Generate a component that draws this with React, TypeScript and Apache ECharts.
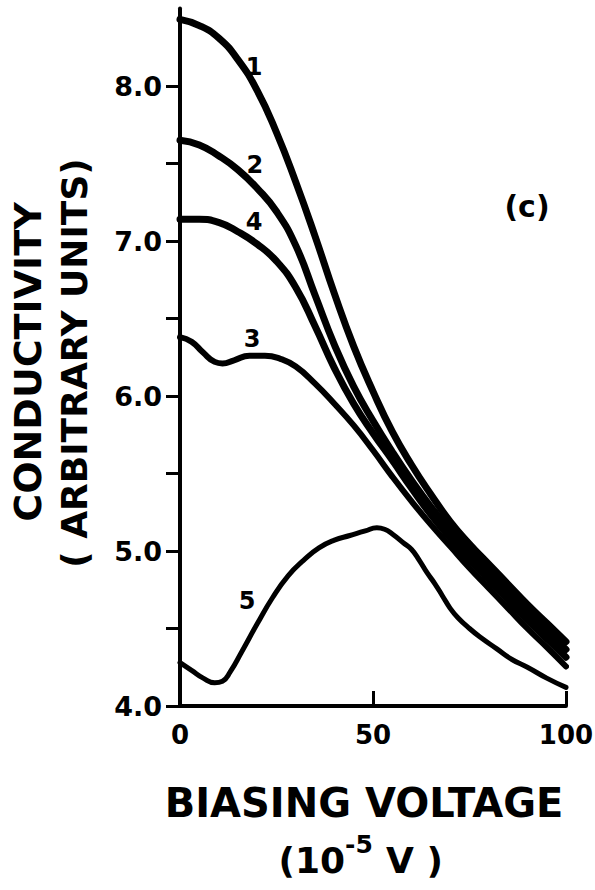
import React, { useEffect, useRef } from "react";
import * as echarts from "echarts";

// ---- data ----
const voltsA = [0, 5, 10, 15, 20, 25, 30, 35, 40, 45, 50, 55, 60, 65, 70, 75, 80, 85, 90, 95, 100];
const curve1 = [8.43, 8.39, 8.31, 8.17, 7.97, 7.7, 7.38, 7.03, 6.66, 6.32, 6.03, 5.77, 5.555, 5.365, 5.19, 5.045, 4.915, 4.785, 4.655, 4.535, 4.415];
const curve2 = [7.65, 7.62, 7.55, 7.46, 7.34, 7.19, 6.97, 6.65, 6.33, 6.06, 5.84, 5.64, 5.455, 5.285, 5.135, 4.995, 4.865, 4.735, 4.605, 4.485, 4.365];
const curve4 = [7.14, 7.14, 7.12, 7.06, 6.98, 6.87, 6.7, 6.45, 6.18, 5.95, 5.76, 5.585, 5.405, 5.235, 5.085, 4.945, 4.815, 4.685, 4.555, 4.435, 4.315];

const volts3 = [0, 3, 6, 9, 11, 14, 18, 22, 26, 30, 35, 40, 45, 50, 55, 60, 65, 70, 75, 80, 85, 90, 95, 100];
const curve3 = [6.38, 6.35, 6.28, 6.22, 6.21, 6.23, 6.26, 6.26, 6.24, 6.19, 6.08, 5.95, 5.81, 5.65, 5.48, 5.32, 5.17, 5.03, 4.89, 4.76, 4.63, 4.5, 4.38, 4.255];

const volts5 = [0, 3, 6, 9, 11, 13, 16, 20, 24, 28, 32, 36, 40, 44, 48, 51, 53, 55, 58, 60, 62, 64, 66, 68, 70, 72, 75, 78, 82, 86, 90, 95, 100];
const curve5 = [4.28, 4.23, 4.18, 4.15, 4.16, 4.22, 4.35, 4.53, 4.7, 4.84, 4.94, 5.02, 5.07, 5.1, 5.13, 5.15, 5.14, 5.11, 5.05, 5.01, 4.94, 4.86, 4.79, 4.71, 4.63, 4.57, 4.5, 4.44, 4.37, 4.3, 4.25, 4.18, 4.12];

const curveNames = ["1", "2", "4", "3", "5"];
const labelV = [19.2, 19.4, 19.2, 18.7, 17.4];
const labelC = [8.12, 7.49, 7.12, 6.37, 4.68];
const panelLabel = "(c)";
const panelV = 89.9;
const panelC = 7.22;

const xTickLabels = [0, 50, 100];
const yTickLabels = [4, 5, 6, 7, 8];
const yMinorTicks = [4, 4.5, 5, 5.5, 6, 6.5, 7, 7.5, 8];

const FONT = "DejaVu Sans";

function zip(xs: number[], ys: number[]) {
  return xs.map((x, i) => [x, ys[i]]);
}

export default function App() {
  const ref = useRef<HTMLDivElement>(null);
  useEffect(() => {
    if (!ref.current) return;
    const chart = echarts.init(ref.current, null, { renderer: "svg" });
    const lineSeries = (data: number[][], width: number) => ({
      type: "line",
      data,
      smooth: 0.5,
      showSymbol: false,
      symbol: "none",
      lineStyle: { color: "#000", width, cap: "round", join: "round" },
      z: 3,
    });
    const textLabel = (size: number) => ({
      show: true,
      position: [0, 0],
      align: "center",
      verticalAlign: "middle",
      formatter: (p: any) => p.name,
      color: "#000",
      opacity: 1,
      textBorderWidth: 0,
      fontSize: size,
      fontWeight: "bold",
      fontFamily: FONT,
    });
    const labelData = curveNames.map((n, i) => ({ value: [labelV[i], labelC[i]], name: n }));
    chart.setOption({
      animation: false,
      backgroundColor: "#fff",
      grid: { left: 180, right: 29, top: 8.5, bottom: 184, outerBoundsMode: "none" },
      xAxis: {
        type: "value",
        min: 0,
        max: 100,
        interval: 50,
        splitLine: { show: false },
        axisLine: { show: true, lineStyle: { color: "#000", width: 4 } },
        axisTick: {
          show: true,
          inside: true,
          length: 15,
          customValues: [50, 100],
          lineStyle: { color: "#000", width: 3 },
        },
        axisLabel: {
          customValues: xTickLabels,
          margin: 16,
          color: "#000",
          fontSize: 26,
          fontWeight: "bold",
          fontFamily: FONT,
        },
      },
      yAxis: {
        type: "value",
        min: 4,
        max: 8.5,
        interval: 0.5,
        splitLine: { show: false },
        axisLine: { show: true, lineStyle: { color: "#000", width: 4 } },
        axisTick: {
          show: true,
          inside: false,
          length: 14,
          customValues: yMinorTicks,
          lineStyle: { color: "#000", width: 3 },
        },
        axisLabel: {
          customValues: yTickLabels,
          formatter: (v: number) => v.toFixed(1),
          margin: 18,
          color: "#000",
          fontSize: 27,
          fontWeight: "bold",
          fontFamily: FONT,
        },
      },
      series: [
        lineSeries(zip(voltsA, curve1), 7),
        lineSeries(zip(voltsA, curve2), 7),
        lineSeries(zip(voltsA, curve4), 7),
        lineSeries(zip(volts3, curve3), 6),
        lineSeries(zip(volts5, curve5), 5),
        {
          type: "scatter",
          symbolSize: 0,
          silent: true,
          data: labelData,
          label: textLabel(24),
          emphasis: { disabled: true },
          z: 5,
        },
        {
          type: "scatter",
          symbolSize: 0,
          silent: true,
          data: [{ value: [panelV, panelC], name: panelLabel }],
          label: textLabel(30),
          emphasis: { disabled: true },
          z: 5,
        },
      ],
      graphic: [
        {
          type: "text",
          x: 28,
          y: 362,
          rotation: Math.PI / 2,
          style: {
            text: "CONDUCTIVITY",
            fill: "#000",
            font: `bold 38px "${FONT}"`,
            align: "center",
            verticalAlign: "middle",
          },
        },
        {
          type: "text",
          x: 74,
          y: 363,
          rotation: Math.PI / 2,
          style: {
            text: "( ARBITRARY UNITS)",
            fill: "#000",
            font: `bold 36px "${FONT}"`,
            align: "center",
            verticalAlign: "middle",
          },
        },
        {
          type: "text",
          x: 364,
          y: 803,
          style: {
            text: "BIASING VOLTAGE",
            fill: "#000",
            font: `bold 40px "${FONT}"`,
            align: "center",
            verticalAlign: "middle",
          },
        },
        {
          type: "text",
          x: 345,
          y: 860,
          style: {
            text: "(10",
            fill: "#000",
            font: `bold 36px "${FONT}"`,
            align: "right",
            verticalAlign: "middle",
          },
        },
        {
          type: "text",
          x: 345,
          y: 844,
          style: {
            text: "-5",
            fill: "#000",
            font: `bold 25px "${FONT}"`,
            align: "left",
            verticalAlign: "middle",
          },
        },
        {
          type: "text",
          x: 386,
          y: 860,
          style: {
            text: "V )",
            fill: "#000",
            font: `bold 36px "${FONT}"`,
            align: "left",
            verticalAlign: "middle",
          },
        },
      ],
    });
    return () => chart.dispose();
  }, []);
  return (
    <div
      ref={ref}
      style={{ position: "fixed", left: 0, top: 0, width: 595, height: 890, background: "#fff" }}
    />
  );
}
